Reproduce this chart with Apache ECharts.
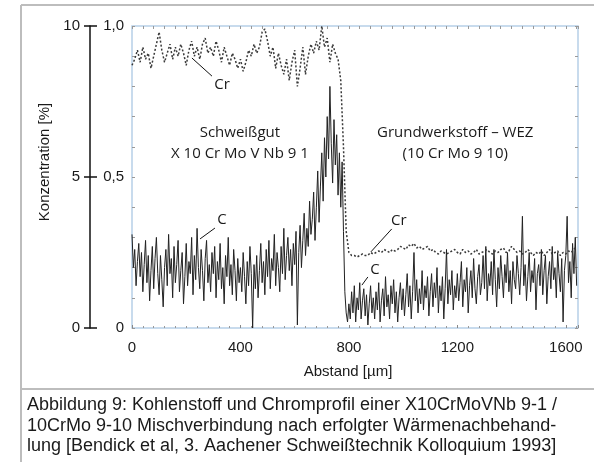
<!DOCTYPE html>
<html>
<head>
<meta charset="utf-8">
<script src="https://cdn.jsdelivr.net/npm/echarts@6/dist/echarts.min.js"></script>
<style>
  html, body { margin: 0; padding: 0; background: #fff; }
  #chart { width: 594px; height: 462px; }
</style>
</head>
<body>
<div id="chart"></div>
<script>
// Abstand der Messpunkte in µm
const crStep = 10;
const cStep = 5;

// Chrom [%], linke Skala 0..10
const crPercent = [
  8.7, 8.9, 9.2, 8.8, 9.3, 8.9, 9.1, 8.6, 9.0, 9.4,
  9.8, 9.2, 8.8, 9.1, 9.4, 8.9, 9.3, 9.0, 9.4, 9.1,
  8.7, 9.2, 9.5, 9.0, 9.3, 8.9, 9.4, 9.6, 9.1, 9.3,
  9.0, 9.5, 9.2, 8.8, 9.3, 9.0, 8.7, 9.1, 8.9, 8.6,
  8.9, 8.5, 8.8, 9.2, 9.0, 9.4, 9.1, 9.3, 9.8, 9.9,
  9.5, 9.0, 9.3, 8.6, 9.1, 8.7, 8.4, 8.9, 8.2, 8.8,
  9.2, 8.0, 8.6, 9.3, 8.4, 9.0, 9.4, 9.1, 9.5, 9.2,
  10.0, 9.3, 9.6, 8.8, 9.4, 9.1, 8.9, 8.2, 6.0, 3.2,
  2.5, 2.4, 2.4, 2.35, 2.4, 2.45, 2.4, 2.4, 2.5, 2.45,
  2.5, 2.55, 2.5, 2.6, 2.55, 2.5, 2.6, 2.55, 2.6, 2.7,
  2.65, 2.6, 2.75, 2.7, 2.8, 2.65, 2.7, 2.6, 2.65, 2.7,
  2.55, 2.6, 2.5, 2.45, 2.55, 2.5, 2.45, 2.5, 2.55, 2.6,
  2.5, 2.45, 2.6, 2.5, 2.55, 2.45, 2.5, 2.6, 2.45, 2.5,
  2.55, 2.6, 2.5, 2.45, 2.55, 2.5, 2.6, 2.65, 2.5, 2.55,
  2.7, 2.6, 2.5, 2.55, 2.45, 2.5, 2.6, 2.5, 2.4, 2.5,
  2.45, 2.55, 2.4, 2.5, 2.6, 2.45, 2.5, 2.55, 2.4, 2.5,
  2.45, 2.55, 2.5, 2.6, 2.7
];

// Kohlenstoff [%], rechte Skala 0..1,0
const cPercent = [
  0.31, 0.20, 0.26, 0.14, 0.22, 0.28, 0.17, 0.25, 0.12, 0.21, 0.29, 0.15, 0.24, 0.09, 0.19, 0.27, 0.13, 0.23, 0.30, 0.18,
  0.11, 0.24, 0.16, 0.07, 0.20, 0.26, 0.14, 0.31, 0.18, 0.23, 0.10, 0.27, 0.15, 0.21, 0.29, 0.12, 0.19, 0.25, 0.08, 0.17,
  0.28, 0.14, 0.22, 0.18, 0.30, 0.11, 0.24, 0.16, 0.33, 0.20, 0.13, 0.26, 0.19, 0.09, 0.23, 0.29, 0.15, 0.21, 0.12, 0.25,
  0.18, 0.27, 0.10, 0.22, 0.16, 0.28, 0.13, 0.20, 0.08, 0.24, 0.17, 0.30, 0.14, 0.21, 0.11, 0.26, 0.19, 0.09, 0.23, 0.15,
  0.20, 0.12, 0.25, 0.17, 0.08, 0.22, 0.14, 0.27, 0.18, 0.00, 0.21, 0.13, 0.24, 0.10, 0.19, 0.28, 0.15, 0.22, 0.11, 0.26,
  0.17, 0.29, 0.13, 0.23, 0.19, 0.31, 0.14, 0.25, 0.20, 0.12, 0.27, 0.18, 0.33, 0.16, 0.24, 0.30, 0.19, 0.26, 0.14, 0.28,
  0.21, 0.32, 0.01, 0.25, 0.34, 0.20, 0.29, 0.38, 0.24, 0.33, 0.27, 0.42, 0.31, 0.36, 0.45, 0.29, 0.40, 0.52, 0.35, 0.47,
  0.58, 0.42, 0.63, 0.50, 0.70, 0.56, 0.80, 0.61, 0.48, 0.69, 0.54, 0.64, 0.44, 0.58, 0.40, 0.55, 0.32, 0.12, 0.05, 0.02,
  0.08, 0.03, 0.12, 0.05, 0.14, 0.02, 0.10, 0.06, 0.15, 0.03, 0.09, 0.13, 0.04, 0.11, 0.01, 0.08, 0.14, 0.05, 0.10, 0.03,
  0.12, 0.06, 0.15, 0.02, 0.09, 0.13, 0.04, 0.17, 0.07, 0.11, 0.03, 0.14, 0.08, 0.16, 0.05, 0.12, 0.02, 0.10, 0.15, 0.06,
  0.13, 0.04, 0.11, 0.18, 0.07, 0.14, 0.03, 0.12, 0.25, 0.09, 0.16, 0.05, 0.13, 0.08, 0.19, 0.06, 0.14, 0.10, 0.17, 0.04,
  0.12, 0.18, 0.07, 0.15, 0.10, 0.20, 0.05, 0.14, 0.09, 0.17, 0.03, 0.13, 0.26, 0.08, 0.16, 0.11, 0.19, 0.06, 0.14, 0.10,
  0.18, 0.09, 0.15, 0.22, 0.07, 0.16, 0.12, 0.20, 0.05, 0.14, 0.19, 0.10, 0.23, 0.13, 0.08, 0.17, 0.21, 0.11, 0.15, 0.24,
  0.13, 0.27, 0.09, 0.18, 0.14, 0.22, 0.11, 0.26, 0.16, 0.07, 0.20, 0.13, 0.24, 0.17, 0.10, 0.21, 0.15, 0.25, 0.12, 0.19,
  0.08, 0.22, 0.16, 0.13, 0.24, 0.18, 0.11, 0.20, 0.37, 0.14, 0.21, 0.09, 0.17, 0.25, 0.12, 0.19, 0.15, 0.23, 0.06, 0.18,
  0.21, 0.14, 0.26, 0.11, 0.19, 0.24, 0.08, 0.17, 0.22, 0.13, 0.27, 0.16, 0.20, 0.10, 0.25, 0.18, 0.12, 0.23, 0.02, 0.19,
  0.24, 0.37, 0.15, 0.22, 0.10, 0.28, 0.18, 0.30, 0.14
];

const xTickLabels = ['0', '400', '800', '1200', '1600'];
const crTickLabels = ['0', '5', '10'];
const cTickLabels = ['0', '0,5', '1,0'];

// Beschriftungen im Diagramm (Koordinaten: µm, Cr-Skala)
const curveLabels = [
  { text: 'Cr', at: [332, 8.05], from: [221, 8.94], to: [295, 8.34] },
  { text: 'Cr', at: [984, 3.54], from: [881, 2.52], to: [958, 3.28] },
  { text: 'C', at: [332, 3.58], from: [251, 2.95], to: [306, 3.31] },
  { text: 'C', at: [896, 1.92], from: [848, 1.42], to: [870, 1.69] }
];
const zoneLabels = [
  { text: 'Schweißgut\nX 10 Cr Mo V Nb 9 1', at: [398, 6.11] },
  { text: 'Grundwerkstoff – WEZ\n(10 Cr Mo 9 10)', at: [1192, 6.11] }
];

const caption = 'Abbildung 9: Kohlenstoff und Chromprofil einer X10CrMoVNb 9-1 /\n' +
  '10CrMo 9-10 Mischverbindung nach erfolgter Wärmenachbehand-\n' +
  'lung [Bendick et al, 3. Aachener Schweißtechnik Kolloquium 1993]';

const chart = echarts.init(document.getElementById('chart'), null, { renderer: 'canvas' });

const tickFont = { color: '#1a1a1a', fontSize: 15, fontFamily: 'Liberation Sans' };
const frameGray = '#bdbdbd';

const option = {
  backgroundColor: '#ffffff',
  animation: false,
  grid: {
    left: 132, right: 16, top: 26, bottom: 134,
    show: true, borderColor: '#b7cfe8', borderWidth: 1.5, backgroundColor: 'transparent'
  },
  xAxis: [
    {
      type: 'value', position: 'bottom', min: 0, max: 1645, interval: 400,
      name: 'Abstand [µm]', nameLocation: 'middle', nameGap: 36,
      nameTextStyle: { color: '#1a1a1a', fontSize: 15, fontFamily: 'Liberation Sans', padding: [0, 14, 0, 0] },
      axisLine: { show: false, onZero: false },
      axisTick: { show: true, inside: true, length: 3, lineStyle: { color: '#888' } },
      minorTick: { show: true, splitNumber: 10, length: 2, lineStyle: { color: '#999' } },
      axisLabel: Object.assign({ margin: 12, formatter: v => xTickLabels[v / 400] }, tickFont),
      splitLine: { show: false }
    },
    {
      type: 'value', position: 'top', min: 0, max: 1645, interval: 40,
      axisLine: { show: false, onZero: false },
      axisTick: { show: true, inside: true, length: 3, lineStyle: { color: '#999' } },
      axisLabel: { show: false },
      splitLine: { show: false }
    }
  ],
  yAxis: [
    {
      // Cr-Skala, abgesetzte Achse links
      type: 'value', position: 'left', offset: 42, min: 0, max: 10, interval: 5,
      name: 'Konzentration [%]', nameLocation: 'middle', nameGap: 30, nameRotate: 90,
      nameTextStyle: { color: '#1a1a1a', fontSize: 15, fontFamily: 'Liberation Sans', padding: [0, 0, 0, 30] },
      axisLine: { show: true, onZero: false, lineStyle: { color: '#111', width: 1.5 } },
      axisTick: { show: true, length: 6, lineStyle: { color: '#111', width: 1.5 } },
      axisLabel: Object.assign({ margin: 10, formatter: v => crTickLabels[v / 5] }, tickFont),
      splitLine: { show: false }
    },
    {
      // C-Skala, Beschriftung direkt am Diagrammrand
      type: 'value', position: 'left', offset: 0, min: 0, max: 1, interval: 0.5,
      axisLine: { show: false, onZero: false },
      axisTick: { show: true, inside: true, length: 3, lineStyle: { color: '#999' } },
      minorTick: { show: true, splitNumber: 5, length: 3, lineStyle: { color: '#999' } },
      axisLabel: Object.assign({ margin: 8, formatter: v => cTickLabels[Math.round(v / 0.5)] }, tickFont),
      splitLine: { show: false }
    },
    {
      // Gegenstriche der abgesetzten Achse
      type: 'value', position: 'left', offset: 42, min: 0, max: 10, interval: 5,
      axisLine: { show: false, onZero: false },
      axisTick: { show: true, inside: true, length: 7, lineStyle: { color: '#111', width: 1.5 } },
      axisLabel: { show: false },
      splitLine: { show: false }
    },
    {
      type: 'value', position: 'right', offset: 0, min: 0, max: 10, interval: 1,
      axisLine: { show: false, onZero: false },
      axisTick: { show: true, inside: true, length: 3, lineStyle: { color: '#999' } },
      axisLabel: { show: false },
      splitLine: { show: false }
    }
  ],
  series: [
    {
      name: 'C', type: 'line', xAxisIndex: 0, yAxisIndex: 1,
      data: cPercent.map((v, i) => [i * cStep, v]),
      showSymbol: false, symbol: 'none',
      lineStyle: { color: '#222', width: 1 }
    },
    {
      name: 'Cr', type: 'line', xAxisIndex: 0, yAxisIndex: 0,
      data: crPercent.map((v, i) => [i * crStep, v]),
      showSymbol: false, symbol: 'none',
      lineStyle: { color: '#3a3a3a', width: 1.5, type: [2, 2] },
      markLine: {
        silent: true, symbol: ['none', 'none'], animation: false,
        label: { show: false },
        lineStyle: { color: '#111', width: 1, type: 'solid' },
        data: curveLabels.map(a => [{ coord: a.from }, { coord: a.to }])
      },
      markPoint: {
        silent: true, symbol: 'rect', symbolSize: 1, animation: false,
        itemStyle: { color: 'rgba(0,0,0,0)' },
        label: {
          show: true, position: 'inside', color: '#1a1a1a',
          fontSize: 15, fontFamily: 'Open Sans', lineHeight: 21, align: 'center'
        },
        data: curveLabels.concat(zoneLabels).map(a => ({
          coord: a.at, value: a.text, label: { formatter: a.text }
        }))
      }
    }
  ],
  graphic: [
    { type: 'line', shape: { x1: 21, y1: 5, x2: 594, y2: 5 }, style: { stroke: frameGray, lineWidth: 2 } },
    { type: 'line', shape: { x1: 21, y1: 5, x2: 21, y2: 462 }, style: { stroke: frameGray, lineWidth: 2 } },
    { type: 'line', shape: { x1: 21, y1: 389, x2: 594, y2: 389 }, style: { stroke: frameGray, lineWidth: 2 } },
    {
      type: 'text', left: 27, top: 395,
      style: { text: caption, fill: '#1a1a1a', fontSize: 18, fontFamily: 'Liberation Sans', lineHeight: 20.5 }
    }
  ]
};

chart.setOption(option);
</script>
</body>
</html>
